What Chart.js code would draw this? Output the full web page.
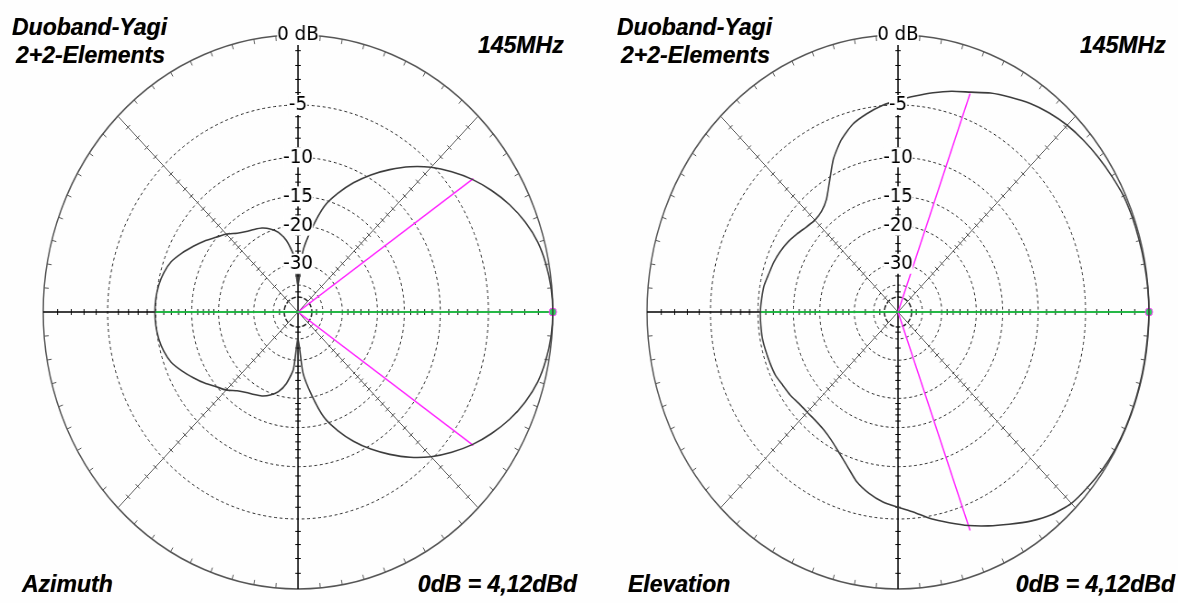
<!DOCTYPE html>
<html>
<head>
<meta charset="utf-8">
<script src="https://cdn.jsdelivr.net/npm/chart.js@4.4.1/dist/chart.umd.min.js"></script>
<style>
  html, body { margin: 0; padding: 0; background: #fefefe; }
  body { position: relative; width: 1178px; height: 603px; overflow: hidden; }
  canvas { position: absolute; }
  .lbl {
    position: absolute;
    font: italic bold 23px/23px "Liberation Sans", Arial, sans-serif;
    color: #000;
    white-space: nowrap;
    text-shadow: -0.6px 0 rgba(225, 135, 0, 0.55), 0.6px 0 rgba(0, 80, 210, 0.55);
  }
</style>
</head>
<body>
<canvas id="azimuthChart" width="574" height="574" style="left:33.5px;top:25px;width:528.4px;height:574px"></canvas>
<canvas id="elevationChart" width="574" height="574" style="left:638.2px;top:25px;width:520.1px;height:574px"></canvas>

<div class="lbl" style="left:12px;top:15.5px">Duoband-Yagi</div>
<div class="lbl" style="left:16px;top:43.5px">2+2-Elements</div>
<div class="lbl" style="left:478px;top:33.5px">145MHz</div>
<div class="lbl" style="left:22px;top:572.5px">Azimuth</div>
<div class="lbl" style="right:601px;top:572.5px">0dB = 4,12dBd</div>

<div class="lbl" style="left:617px;top:15.5px">Duoband-Yagi</div>
<div class="lbl" style="left:621px;top:43.5px">2+2-Elements</div>
<div class="lbl" style="left:1080px;top:33.5px">145MHz</div>
<div class="lbl" style="left:628px;top:572.5px">Elevation</div>
<div class="lbl" style="right:3px;top:572.5px">0dB = 4,12dBd</div>

<script>
// angles counter-clockwise from 0 deg (right), 5 deg steps
const angleStep = 5;
const angles = Array.from({ length: 72 }, (_, i) => i * angleStep);

// relative gain in dB at each angle above (0..355)
const azimuthDb = [
  0, -0.05, -0.2, -0.45, -0.9, -1.5, -2.25, -3.1, -4.1, -5.2, -6.5, -8.0, -9.6, -11.4, -13.5, -16.0, -20.5, -26, -40,
  -27, -23, -20.8, -19.6, -18.8, -18.3, -17.8, -17.0, -15.8, -14.9, -13.8, -12.8, -11.8, -10.9, -10.4, -10.1, -9.95, -9.9,
  -9.95, -10.1, -10.4, -10.9, -11.8, -12.8, -13.8, -14.9, -15.8, -17.0, -17.8, -18.3, -18.8, -19.6, -20.8, -23, -27,
  -40, -26, -20.5, -16.0, -13.5, -11.4, -9.6, -8.0, -6.5, -5.2, -4.1, -3.1, -2.25, -1.5, -0.9, -0.45, -0.2, -0.05
];
const elevationDb = [
  0, -0.02, -0.05, -0.08, -0.1, -0.15, -0.3, -0.45, -0.62, -0.82, -1.1, -1.45, -1.9, -2.35, -2.9, -3.3, -3.75, -4.2, -4.6,
  -5.0, -5.5, -6.1, -7.1, -8.5, -10.4, -12.0, -12.8, -13.0, -12.7, -12.2, -11.7, -11.3, -11.0, -10.8, -10.5, -10.4, -10.3,
  -10.3, -10.3, -10.4, -10.5, -10.6, -10.9, -11.1, -11.4, -11.5, -11.5, -11.3, -10.8, -10.0, -9.0, -7.8, -7.0, -6.4,
  -6.0, -5.5, -4.75, -4.1, -3.4, -2.75, -2.1, -1.4, -0.8, -0.4, -0.25, -0.12, -0.05, -0.03, -0.03, -0.03, -0.03, -0.03
];

// ARRL log scale rings and labels
const ringDb = [-50, -40, -30, -20, -15, -10, -5, 0];
const ringLabels = ['', '', '-30', '-20', '-15', '-10', '-5', '0 dB'];
const spokeTickDb = [-1, -2, -3, -4, -6, -7, -8, -9, -11, -12, -13, -14, -16, -17, -18, -19, -22, -24, -26, -28, -35, -45];

// -3 dB beamwidth directions
const azimuthBeam = [35, -35];
const elevationBeam = [70, -70];
const beamDb = -3;

const bg = '#fefefe';
const n = angles.length;
const toR = (db) => Math.pow(0.89, -db / 2);
// chart index 0 sits at the top and runs clockwise; data angles run counter-clockwise from the right
const idxOf = (deg) => ((Math.round((90 - deg) / angleStep) % n) + n) % n;
const toChartOrder = (arr) => arr.map((_, i) => arr[((90 / angleStep - i) % n + n) % n]);

const polarDecor = {
  id: 'polarDecor',
  beforeDatasetsDraw(chart) {
    const s = chart.scales.r;
    const ctx = chart.ctx;
    const R = s.drawingArea;
    const seg = (a, b) => { ctx.beginPath(); ctx.moveTo(a.x, a.y); ctx.lineTo(b.x, b.y); ctx.stroke(); };
    ctx.save();
    // rim ticks every 5 deg
    ctx.strokeStyle = '#555';
    ctx.lineWidth = 1;
    for (let i = 0; i < n; i++) {
      if (i % 9 === 0) continue;
      seg(s.getPointPosition(i, R), s.getPointPosition(i, R - 5));
    }
    // ticks across the spokes
    for (let i = 0; i < n; i += 9) {
      const ang = s.getIndexAngle(i) - Math.PI / 2;
      const px = -Math.sin(ang) * 3, py = Math.cos(ang) * 3;
      ctx.strokeStyle = i % 18 === 0 ? '#000' : '#444';
      spokeTickDb.forEach((db) => {
        const p = s.getPointPosition(i, s.getDistanceFromCenterForValue(toR(db)));
        seg({ x: p.x - px, y: p.y - py }, { x: p.x + px, y: p.y + py });
      });
    }
    ctx.restore();
  }
};

const makeChart = (id, db, beam) => {
  const pattern = toChartOrder(db.map(toR));
  const front = new Array(n).fill(null);
  front[idxOf(0)] = toR(db[0]);
  front[idxOf(180)] = toR(db[angles.indexOf(180)]);
  // rays from the centre: centre points between the two -3 dB points
  const beamLines = new Array(n).fill(null);
  [0, 90, 180, 270].forEach((a) => { beamLines[idxOf(a)] = 0; });
  beam.forEach((a) => { beamLines[idxOf(a)] = toR(beamDb); });

  new Chart(document.getElementById(id), {
    type: 'radar',
    data: {
      labels: toChartOrder(angles),
      datasets: [
        { data: pattern, borderColor: '#3c3c3c', borderWidth: 1.6, pointRadius: 0, fill: false, tension: 0.2 },
        {
          data: front, spanGaps: true, borderColor: '#1ee04a', borderWidth: 1.6, fill: false,
          pointRadius: (c) => (c.dataIndex === idxOf(0) ? 4 : 0),
          pointBackgroundColor: '#2bd15a', pointBorderColor: '#ff33ff', pointBorderWidth: 1
        },
        { data: beamLines, spanGaps: true, borderColor: '#ff22ff', borderWidth: 1.5, fill: false, pointRadius: 0 }
      ]
    },
    options: {
      responsive: false,
      animation: false,
      devicePixelRatio: 1,
      events: [],
      layout: { padding: 0 },
      plugins: { legend: { display: false }, tooltip: { enabled: false } },
      scales: {
        r: {
          min: 0,
          max: 1,
          startAngle: 0,
          afterBuildTicks: (s) => { s.ticks = [0, ...ringDb.map(toR)].map((v) => ({ value: v })); },
          ticks: {
            z: 1,
            callback: (v, i) => (i === 0 ? '' : ringLabels[i - 1]),
            font: { family: 'DejaVu Sans', size: 20 },
            color: '#000',
            backdropColor: bg,
            backdropPadding: 0,
            showLabelBackdrop: (c) => c.index > 0 && ringLabels[c.index - 1] !== ''
          },
          grid: {
            circular: true,
            color: (c) => (c.index === ringDb.length ? '#555' : '#222'),
            lineWidth: (c) => (c.index === ringDb.length ? 1.5 : (c.index === 1 ? 1.5 : 1))
          },
          border: { dash: (c) => (c.index === ringDb.length ? [] : (c.index === 1 ? [5, 2] : [3, 3])) },
          angleLines: {
            color: (c) => (c.index % 18 === 0 ? '#000' : '#555'),
            lineWidth: (c) => (c.index % 9 !== 0 ? 0 : (c.index % 18 === 0 ? 1.5 : 1))
          },
          pointLabels: { display: false }
        }
      }
    },
    plugins: [polarDecor]
  });
};

makeChart('azimuthChart', azimuthDb, azimuthBeam);
makeChart('elevationChart', elevationDb, elevationBeam);
</script>
</body>
</html>
